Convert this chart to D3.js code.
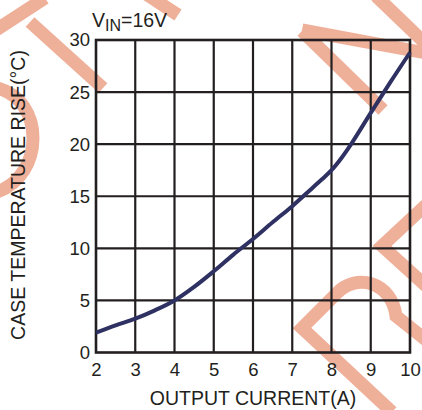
<!DOCTYPE html>
<html>
<head>
<meta charset="utf-8">
<script src="https://cdn.jsdelivr.net/npm/d3@7"></script>
<style>
  html, body { margin: 0; padding: 0; background: #fff; }
  svg { display: block; }
  text { font-family: "Liberation Sans", Arial, sans-serif; fill: #231f20; }
</style>
</head>
<body>
<svg id="chart" width="422" height="410"></svg>
<script>
// ---- data ----
const currentA = [2, 2.5, 3, 3.5, 4, 4.5, 5, 5.5, 6, 6.5, 7, 7.5, 7.75, 8, 8.25, 8.5, 9, 9.5, 10];
const tempRise = [1.9, 2.6, 3.25, 4.05, 5.0, 6.3, 7.8, 9.4, 10.9, 12.5, 14.05, 15.75, 16.6, 17.5, 18.65, 20.0, 23.0, 25.95, 28.8];
const xTicks = [2, 3, 4, 5, 6, 7, 8, 9, 10];
const yTicks = [0, 5, 10, 15, 20, 25, 30];
const xTitle = "OUTPUT CURRENT(A)";
const yTitle = "CASE TEMPERATURE RISE(°C)";

const svg = d3.select("#chart");
const mLeft = 96, mRight = 410, mTop = 40, mBottom = 352.5;
const x = d3.scaleLinear().domain([2, 10]).range([mLeft, mRight]);
const y = d3.scaleLinear().domain([0, 30]).range([mBottom, mTop]);

// ---- watermark (decorative, behind chart) ----
const wm = svg.append("g").attr("fill", "none").attr("stroke", "#efb09a")
  .attr("stroke-width", 13).attr("stroke-linejoin", "miter");
[
  "M-3,88 C45,100 45,175 -3,192",
  "M45,-2 L-4,30",
  "M30,22 L103,88",
  "M146,-6 L178,15",
  "M302,30 L426,53",
  "M302,31 L383,110",
  "M376,-4 L426,44",
  "M392,412 L302,328 L336,294 C356,272 392,282 396,316 L426,340",
  "M426,205 L382,246 L426,286"
].forEach(d => wm.append("path").attr("d", d));

// ---- grid ----
const grid = svg.append("g").attr("stroke", "#231f20").attr("stroke-width", 2.2);
grid.selectAll("line.v").data(xTicks.slice(1, -1)).join("line").attr("class", "v")
  .attr("x1", d => x(d)).attr("x2", d => x(d)).attr("y1", mTop).attr("y2", mBottom);
grid.selectAll("line.h").data(yTicks.slice(1, -1)).join("line").attr("class", "h")
  .attr("y1", d => y(d)).attr("y2", d => y(d)).attr("x1", mLeft).attr("x2", mRight);
svg.append("rect").attr("x", mLeft).attr("y", mTop).attr("width", mRight - mLeft).attr("height", mBottom - mTop)
  .attr("fill", "none").attr("stroke", "#231f20").attr("stroke-width", 2.6);

// ---- axes (labels only) ----
const xAxis = d3.axisBottom(x).tickValues(xTicks).tickSize(0).tickPadding(10).tickFormat(d3.format("d"));
const gx = svg.append("g").attr("transform", `translate(0,${mBottom})`).call(xAxis);
gx.select(".domain").remove();
gx.selectAll("text").attr("font-size", 18.5).attr("fill", "#231f20")
  .attr("font-family", "Liberation Sans, Arial, sans-serif");

const yAxis = d3.axisLeft(y).tickValues(yTicks).tickSize(0).tickPadding(6).tickFormat(d3.format("d"));
const gy = svg.append("g").attr("transform", `translate(${mLeft},0)`).call(yAxis);
gy.select(".domain").remove();
gy.selectAll("text").attr("font-size", 18.5).attr("fill", "#231f20")
  .attr("font-family", "Liberation Sans, Arial, sans-serif");

// ---- curve ----
const line = d3.line().x((d, i) => x(currentA[i])).y(d => y(d)).curve(d3.curveCatmullRom.alpha(0.5));
svg.append("path").datum(tempRise).attr("d", line)
  .attr("fill", "none").attr("stroke", "#2e3162").attr("stroke-width", 4).attr("stroke-linecap", "butt");

// ---- titles ----
svg.append("text").attr("x", 253).attr("y", 405).attr("text-anchor", "middle")
  .attr("font-size", 19.5).text(xTitle);
svg.append("text").attr("transform", "translate(25,195) rotate(-90)").attr("text-anchor", "middle")
  .attr("font-size", 19.5).text(yTitle);

const vin = svg.append("text").attr("x", 92).attr("y", 27).attr("font-size", 19.5);
vin.append("tspan").text("V");
vin.append("tspan").attr("dy", 4).attr("font-size", 16).text("IN");
vin.append("tspan").attr("dy", -4).text("=16V");
</script>
</body>
</html>
